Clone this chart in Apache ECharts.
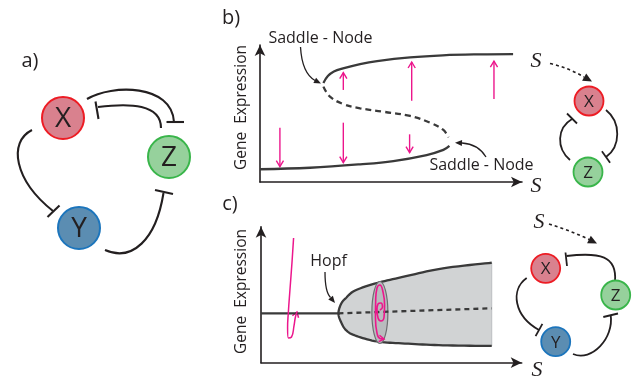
<!DOCTYPE html>
<html><head><meta charset="utf-8">
<script src="https://cdn.jsdelivr.net/npm/echarts@6/dist/echarts.min.js"></script>
<style>html,body{margin:0;padding:0;background:#fff}#c{width:633px;height:382px}</style>
</head><body><div id="c"></div>
<script>
// ---- panel b: saddle-node bifurcation (S: 0..100, expression: 0..100)
const snUpper = [[24.2,72.3],[25.9,77.4],[28.2,80.7],[31.7,83.0],[38.2,86.1],[44.7,88.3],[57.3,91.0],[69.8,92.5],[84.0,93.2],[96.6,93.4]];
const snUnstable = [[24.2,69.6],[26.7,62.3],[31.8,56.9],[38.2,53.8],[47.1,51.3],[57.3,48.2],[64.9,43.3],[70.0,38.0],[71.9,32.6]];
const snLower = [[0,9.3],[19.1,10.4],[38.2,12.9],[50.9,15.3],[63.6,19.7],[70.0,23.4],[72.3,26.3]];
// flow arrows: [S, from, to]
const snFlow = [[31.8,67.2,79.8],[57.9,59.3,87.6],[89.3,60.6,88.3],[7.6,39.6,11.2],[31.8,43.3,14.1],[57.1,34.8,21.4]];
// ---- panel c: Hopf bifurcation
const hopfSteady = [[0,36.3],[29.7,36.3]];
const hopfUnstable = [[29.7,36.3],[88.5,40.0]];
const hopfUpper = [[29.7,36.3],[30.7,43.2],[32.6,47.6],[36.1,53.1],[44.5,58.6],[55.2,63.4],[69.8,69.4],[88.5,73.5]];
const hopfLower = [[29.7,36.3],[30.7,29.9],[32.6,24.0],[36.1,20.0],[44.5,15.6],[55.2,14.1],[69.8,12.8],[88.5,12.3]];
const hopfSection = [[45.6,36.9,3.07,22.8]]; // cx, cy, rx, ry
const trajDamped = [[12.5,91.7],[11.9,74.0],[11.1,53.5],[10.5,37.3],[10.2,25.5],[10.5,18.2],[11.7,18.9],[12.7,27.7],[13.2,33.6],[13.8,37.3]];
const trajSpiral = [[45.6,38.8],[46.6,41.0],[46.0,43.9],[44.9,43.2],[44.5,38.8],[44.9,32.9],[46.0,30.7],[47.2,33.6],[47.4,42.4],[46.8,52.0],[45.6,57.1],[44.5,54.9],[44.0,46.1],[43.9,32.9],[44.5,21.8],[45.6,17.8],[47.2,17.4]];
const trajHeads = [[13.8,37.3,13.2,33.6],[47.2,17.4,45.6,17.8]];

const INK='#231f20', CURVE='#3a3a3a', PINK='#ec168c';
const FONT="'Open Sans','Noto Sans',sans-serif";
const SERIF="'Liberation Serif','DejaVu Serif',serif";

function bez(c,w,dash){const s={x1:c[0],y1:c[1],cpx1:c[2],cpy1:c[3],x2:c[c.length-2],y2:c[c.length-1]};
 if(c.length===8){s.cpx2=c[4];s.cpy2=c[5];}
 const st={stroke:INK,lineWidth:w,fill:null};if(dash)st.lineDash=dash;
 return {type:'bezierCurve',shape:s,style:st};}
function inhib(c,b,w){return [bez(c,w),
 {type:'line',shape:{x1:b[0],y1:b[1],x2:b[2],y2:b[3]},style:{stroke:INK,lineWidth:w}}];}
function node(cx,cy,r,f,s,t,fs,sw){return [
 {type:'circle',shape:{cx:cx,cy:cy,r:r},style:{fill:f,stroke:s,lineWidth:sw}},
 {type:'text',x:cx,y:cy+1,style:{text:t,font:fs+'px '+FONT,fill:INK,align:'center',verticalAlign:'middle'}}];}
function fhead(tip,from,len,hw,color){const dx=tip[0]-from[0],dy=tip[1]-from[1],L=Math.hypot(dx,dy),ux=dx/L,uy=dy/L;
 const bx=tip[0]-ux*len,by=tip[1]-uy*len;
 return {type:'polygon',shape:{points:[tip,[bx-uy*hw,by+ux*hw],[bx+uy*hw,by-ux*hw]]},style:{fill:color}};}
function txt(x,y,t,fs,extra){return Object.assign({type:'text',x:x,y:y,style:{text:t,font:fs+'px '+FONT,fill:INK,align:'center',verticalAlign:'middle'}},extra||{});}
function chevron(tip,from,len,hw){const dx=tip[0]-from[0],dy=tip[1]-from[1],L=Math.hypot(dx,dy)||1,ux=dx/L,uy=dy/L;
 const bx=tip[0]-ux*len,by=tip[1]-uy*len;return [[bx-uy*hw,by+ux*hw],tip,[bx+uy*hw,by-ux*hw]];}
function cr(P,n){const out=[];for(let i=0;i<P.length-1;i++){const p0=P[i-1]||P[i],p1=P[i],p2=P[i+1],p3=P[i+2]||P[i+1];
 for(let k=0;k<n;k++){const t=k/n,t2=t*t,t3=t2*t;const f=j=>0.5*(2*p1[j]+(-p0[j]+p2[j])*t+(2*p0[j]-5*p1[j]+4*p2[j]-p3[j])*t2+(-p0[j]+3*p1[j]-3*p2[j]+p3[j])*t3);out.push([f(0),f(1)]);}}
 out.push(P[P.length-1]);return out;}

const g=[];
// panel labels
g.push(txt(30,61,'a)',20),txt(231,18,'b)',20),txt(230,204,'c)',20));
// ---- network a
g.push(...inhib([87,99,112,84,172,84,174,122],[166.5,122,184,122],2.1));
g.push(...inhib([161,128,161,104,130,103,98,107],[95.5,101.5,98.5,119],2.1));
g.push(...inhib([32,130,8,142,14,180,53,211],[47.5,217,59.5,205.5],2.1));
g.push(...inhib([105,250,132,262,156,240,163.5,193],[155,190,173,194],2.1));
g.push(...node(63,118,21,'#d9818e','#ed1c24','X',28,2));
g.push(...node(169,157,21,'#96d19c','#39b54a','Z',28,2));
g.push(...node(79,228,21,'#5b8db2','#1c75bc','Y',28,2));
// ---- network b
g.push({type:'text',x:536,y:61,style:{text:'S',font:'italic 22px '+SERIF,fill:INK,align:'center',verticalAlign:'middle'}});
g.push(bez([550,63.5,569,68,584,77],1.6,[3,3]));
g.push(fhead([592,81.5],[584,77],9,4.2,INK));
g.push(...inhib([570,160,556,148,557,128,572,119],[567,113.5,577,123.5],1.8));
g.push(...inhib([606,110,621,122,621,146,606,157],[601.9,151.3,610.1,162.7],1.8));
g.push(...node(589,101,14.5,'#d9818e','#ed1c24','X',17,1.8));
g.push(...node(588,172,14.5,'#96d19c','#39b54a','Z',17,1.8));
// ---- network c
g.push({type:'text',x:539,y:222,style:{text:'S',font:'italic 22px '+SERIF,fill:INK,align:'center',verticalAlign:'middle'}});
g.push(bez([549,224,569,230,589,239.5],1.6,[3,3]));
g.push(fhead([597,243.5],[589,239.5],9,4.2,INK));
g.push(...inhib([615,281,617,256,600,252,566.5,256],[565.5,252.5,567,266],1.8));
g.push(...inhib([526.7,278,510,290,514,316,539,330],[535.6,336.1,542.4,323.9],1.8));
g.push(...inhib([573,354,592,362,614,338,610.7,315.2],[603.3,317,618,313.5],1.8));
g.push(...node(545.7,268.3,14.5,'#d9818e','#ed1c24','X',17,1.8));
g.push(...node(615.7,295,14.5,'#96d19c','#39b54a','Z',17,1.8));
g.push(...node(555.7,341.7,14.5,'#5b8db2','#1c75bc','Y',17,1.8));
// ---- axis texts and annotations
g.push(txt(241.5,107.5,'Gene  Expression',15.5,{rotation:Math.PI/2}));
g.push(txt(241.5,291.5,'Gene  Expression',15.5,{rotation:Math.PI/2}));
g.push({type:'text',x:536,y:186,style:{text:'S',font:'italic 22px '+SERIF,fill:INK,align:'center',verticalAlign:'middle'}});
g.push({type:'text',x:537,y:370,style:{text:'S',font:'italic 22px '+SERIF,fill:INK,align:'center',verticalAlign:'middle'}});
g.push(txt(320.5,38.5,'Saddle - Node',16));
g.push(txt(481.5,165,'Saddle - Node',16));
g.push(txt(328.5,261,'Hopf',16));
g.push(bez([300.5,47,302,73,315,80.5],1.3));
g.push(fhead([321,83.5],[315,80.5],7,3,INK));
g.push(bez([486,157,478,144,462,143],1.3));
g.push(fhead([455,142.7],[462,143],7,3,INK));
g.push(bez([325,272,325,292,330.5,297.5],1.3));
g.push(fhead([335,303],[330.5,297.5],7,3,INK));
g.forEach(e=>{e.silent=true;e.z=10;});

function axisCommon(){return {type:'value',min:0,max:100,axisTick:{show:false},axisLabel:{show:false},splitLine:{show:false},
 axisLine:{show:true,symbol:['none','arrow'],symbolSize:[8,11],lineStyle:{color:INK,width:1.6}}};}
const lineBase={type:'line',showSymbol:false,silent:true,animation:false};

const option={
 animation:false,
 grid:[{left:260,top:45,width:262,height:137},{left:261,top:226.7,width:260.7,height:136}],
 xAxis:[Object.assign(axisCommon(),{gridIndex:0}),Object.assign(axisCommon(),{gridIndex:1})],
 yAxis:[Object.assign(axisCommon(),{gridIndex:0}),Object.assign(axisCommon(),{gridIndex:1})],
 graphic:{elements:g},
 series:[
  Object.assign({},lineBase,{name:'stable high',xAxisIndex:0,yAxisIndex:0,data:snUpper,smooth:0.4,lineStyle:{color:CURVE,width:2.3}}),
  Object.assign({},lineBase,{name:'unstable',xAxisIndex:0,yAxisIndex:0,data:snUnstable,smooth:0.4,lineStyle:{color:CURVE,width:2.3,type:[6,4]}}),
  Object.assign({},lineBase,{name:'stable low',xAxisIndex:0,yAxisIndex:0,data:snLower,smooth:0.4,lineStyle:{color:CURVE,width:2.3}}),
  {type:'custom',name:'flow',xAxisIndex:0,yAxisIndex:0,silent:true,data:snFlow,
   renderItem:function(p,api){const a=api.coord([api.value(0),api.value(1)]),b=api.coord([api.value(0),api.value(2)]);
    return {type:'group',children:[
     {type:'line',shape:{x1:a[0],y1:a[1],x2:b[0],y2:b[1]},style:{stroke:PINK,lineWidth:1.4}},
     {type:'polyline',shape:{points:chevron(b,a,6,3.6)},style:{stroke:PINK,lineWidth:1.4,fill:null}}]};}},
  {type:'custom',name:'envelope',xAxisIndex:1,yAxisIndex:1,silent:true,data:[[0]],
   renderItem:function(p,api){const P=hopfUpper.slice().reverse().concat(hopfLower.slice(1)).map(v=>api.coord(v));
    const D=cr(P,10);
    return {type:'group',children:[
     {type:'polygon',shape:{points:D},style:{fill:'#d1d3d4',stroke:'#bcbec0',lineWidth:1}},
     {type:'polyline',shape:{points:D},style:{stroke:CURVE,lineWidth:2.3,fill:null}}]};}},
  {type:'custom',name:'section',xAxisIndex:1,yAxisIndex:1,silent:true,data:hopfSection,
   renderItem:function(p,api){const c=api.coord([api.value(0),api.value(1)]),s=api.size([api.value(2),api.value(3)]);
    const rx=s[0],ry=s[1],cx=c[0],cy=c[1];
    const d='M'+(cx-rx)+','+cy+' A'+rx+','+ry+' 0 1,0 '+(cx+rx)+','+cy+' A'+rx+','+ry+' 0 1,0 '+(cx-rx)+','+cy+' Z';
    return {type:'path',shape:{pathData:d},style:{fill:'#b9bbbe',stroke:'#6d6e71',lineWidth:1.2}};}},
  Object.assign({},lineBase,{name:'steady',xAxisIndex:1,yAxisIndex:1,data:hopfSteady,lineStyle:{color:CURVE,width:2.3}}),
  Object.assign({},lineBase,{name:'unstable c',xAxisIndex:1,yAxisIndex:1,data:hopfUnstable,lineStyle:{color:CURVE,width:2.3,type:[5,4]}}),
  Object.assign({},lineBase,{name:'damped',xAxisIndex:1,yAxisIndex:1,data:trajDamped,smooth:0.5,lineStyle:{color:PINK,width:1.5}}),
  Object.assign({},lineBase,{name:'spiral',xAxisIndex:1,yAxisIndex:1,data:trajSpiral,smooth:0.5,lineStyle:{color:PINK,width:1.6}}),
  {type:'custom',name:'heads',xAxisIndex:1,yAxisIndex:1,silent:true,data:trajHeads,
   renderItem:function(p,api){const t=api.coord([api.value(0),api.value(1)]),f=api.coord([api.value(2),api.value(3)]);
    return {type:'polyline',shape:{points:chevron(t,f,5,3.2)},style:{stroke:PINK,lineWidth:1.5,fill:null}};}}
 ]
};
echarts.init(document.getElementById('c'),null,{renderer:'canvas'}).setOption(option);
</script></body></html>
